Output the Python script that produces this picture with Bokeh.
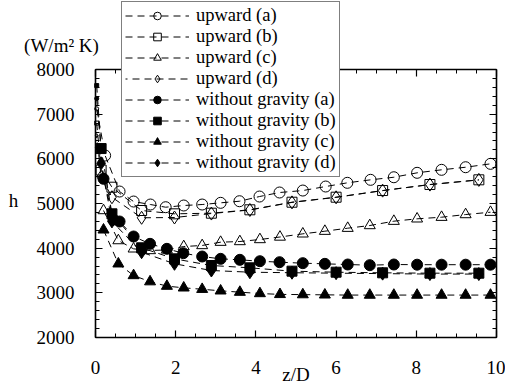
import math
from bokeh.plotting import figure
from bokeh.models import (LinearAxis, SingleIntervalTicker, Legend, LegendItem, Range1d,
                          Label, CustomJSTickFormatter)
from bokeh.embed import file_html
from bokeh.resources import INLINE

# ---- data ----
z_a = [0.03, 0.24, 0.6, 0.95, 1.37, 1.75, 2.2, 2.66, 3.12, 3.59, 4.09, 4.59, 5.17, 5.74, 6.28, 6.86, 7.44, 8.02, 8.63, 9.23, 9.85]
up_a = [7120, 6074, 5268, 5044, 4977, 4917, 4955, 4977, 5015, 5051, 5156, 5246, 5290, 5380, 5463, 5530, 5588, 5687, 5754, 5812, 5888]

z_b = [0.03, 0.14, 0.41, 1.15, 1.97, 2.89, 3.85, 4.9, 6.0, 7.16, 8.34, 9.56]
up_b = [6800, 5750, 5365, 4843, 4769, 4783, 4859, 5029, 5141, 5290, 5425, 5530]
up_d = [6520, 5600, 5140, 4680, 4686, 4775, 4855, 5025, 5138, 5288, 5423, 5528]

z_c = [0.2, 0.57, 0.95, 1.36, 1.78, 2.2, 2.66, 3.12, 3.6, 4.1, 4.6, 5.17, 5.72, 6.29, 6.84, 7.44, 8.02, 8.63, 9.23, 9.85]
up_c = [4843, 4170, 3985, 3948, 3960, 4037, 4060, 4134, 4149, 4194, 4250, 4321, 4380, 4447, 4507, 4604, 4657, 4693, 4753, 4805]

z_wa = [0.03, 0.2, 0.45, 0.6, 0.95, 1.36, 1.78, 2.19, 2.66, 3.12, 3.6, 4.1, 4.59, 5.17, 5.72, 6.29, 6.84, 7.44, 8.02, 8.63, 9.23, 9.85]
wo_a = [7350, 5553, 4640, 4597, 4261, 4097, 3985, 3887, 3813, 3761, 3739, 3708, 3686, 3664, 3649, 3634, 3619, 3634, 3630, 3630, 3630, 3630]

wo_b = [7640, 6230, 4769, 4008, 3761, 3612, 3560, 3485, 3462, 3448, 3440, 3440]
wo_d = [6250, 5900, 4600, 3910, 3650, 3500, 3462, 3450, 3440, 3430, 3420, 3420]

wo_c = [4410, 3650, 3388, 3250, 3150, 3112, 3080, 3045, 3015, 2985, 2965, 2960, 2955, 2950, 2950, 2950, 2950, 2950, 2950, 2950]

labels = ["upward (a)", "upward (b)", "upward (c)", "upward (d)",
          "without gravity (a)", "without gravity (b)", "without gravity (c)", "without gravity (d)"]
x_label = "z/D"
y_label = "h"
unit_label = "(W/m² K)"
x_ticks_interval = 2
y_ticks_interval = 1000
X0, X1, Y0, Y1 = 0, 10, 2000, 8000

FONT = "Liberation Serif"
W, H = 505, 385
# visible plot box in canvas pixels
BL, BT, BW, BH = 95, 69, 401, 268
sx = BW / (X1 - X0)
sy = BH / (Y1 - Y0)

# frame covers the whole canvas so that legend and labels are never clipped
xr = Range1d(X0 - BL / sx, X0 + (W - BL) / sx)
yr_ = Range1d(Y0 - (H - BT - BH) / sy, Y0 + (BT + BH) / sy)

p = figure(width=W, height=H, output_backend="svg", toolbar_location=None,
           x_range=xr, y_range=yr_,
           min_border_left=0, min_border_top=0, min_border_bottom=0, min_border_right=0,
           x_axis_location=None, y_axis_location=None)
p.title.visible = False
p.grid.visible = False
p.outline_line_color = None
p.background_fill_color = "white"
p.border_fill_color = "white"

blank = CustomJSTickFormatter(code="return ''")

def style_axis(ax, show_labels):
    ax.axis_line_color = "black"
    ax.axis_line_width = 1.6
    ax.major_tick_in = 7
    ax.major_tick_out = 0
    ax.minor_tick_in = 4
    ax.minor_tick_out = 0
    ax.major_tick_line_color = "black"
    ax.minor_tick_line_color = "black"
    ax.major_tick_line_width = 1.2
    ax.minor_tick_line_width = 1
    if show_labels:
        ax.major_label_text_font = FONT
        ax.major_label_text_font_size = "19px"
        ax.major_label_text_color = "black"
    else:
        ax.formatter = blank
        ax.major_label_standoff = 0

xt = SingleIntervalTicker(interval=x_ticks_interval, num_minor_ticks=4)
yt = SingleIntervalTicker(interval=y_ticks_interval, num_minor_ticks=5)

xb = LinearAxis(ticker=xt, fixed_location=Y0, bounds=(X0, X1)); style_axis(xb, True)
xb.major_label_standoff = 23
xtop = LinearAxis(ticker=xt, fixed_location=Y1, bounds=(X0, X1)); style_axis(xtop, False)
yl = LinearAxis(ticker=yt, fixed_location=X0, bounds=(Y0, Y1)); style_axis(yl, True)
yl.major_label_standoff = 21
yr = LinearAxis(ticker=yt, fixed_location=X1, bounds=(Y0, Y1)); style_axis(yr, False)
p.add_layout(xb, "below")
p.add_layout(xtop, "above")
p.add_layout(yl, "left")
p.add_layout(yr, "right")

def txt(x, y, t):
    p.add_layout(Label(x=x, y=y, text=t, text_font=FONT, text_font_size="19px",
                       text_align="center", text_baseline="middle", text_color="black"))

txt(X0 - 82 / sx, Y0 + 137 / sy, y_label)
txt(X0 - 34 / sx, Y1 + 24 / sy, unit_label)
txt((X0 + X1) / 2, Y0 - 37 / sy, x_label)

DASH = "7 5"
PERIOD = 12

def path_len(xs, ys, n):
    return sum(math.hypot((xs[i + 1] - xs[i]) * sx, (ys[i + 1] - ys[i]) * sy) for i in range(n))

series = [
    (z_a, up_a, "circle", False),
    (z_b, up_b, "square", False),
    (z_c, up_c, "triangle", False),
    (z_b, up_d, "diamond", False),
    (z_wa, wo_a, "circle", True),
    (z_b, wo_b, "square", True),
    (z_c, wo_c, "triangle", True),
    (z_b, wo_d, "diamond", True),
]
offsets = [0] * 8
offsets[3] = (path_len(z_b, up_b, 4) - path_len(z_b, up_d, 4)) % PERIOD

sizes = {"circle": 11, "square": 10, "triangle": 11, "diamond": 13}

items = []
for k, ((xs, ys, mk, filled), lab) in enumerate(zip(series, labels)):
    ln = p.line(xs, ys, line_color="black", line_width=1, line_dash=DASH,
                line_dash_offset=int(round(offsets[k])))
    start = 1 if xs[0] < 0.1 else 0
    if start:
        p.scatter(xs[:1], ys[:1], marker=mk, size=4, line_color="black", line_width=1,
                  fill_color="black" if filled else None, fill_alpha=1 if filled else 0)
    sc = p.scatter(xs[start:], ys[start:], marker=mk, size=sizes[mk], line_color="black",
                   line_width=1, fill_color="black" if filled else None,
                   fill_alpha=1 if filled else 0)
    items.append(LegendItem(label=lab, renderers=[ln, sc]))

# legend box: left edge 26 px right of the y axis, bottom 160 px above the x axis
leg = Legend(items=items, location=(BL + 26, (H - BT - BH) + 160))
leg.label_text_font = FONT
leg.label_text_font_size = "18.5px"
leg.label_text_color = "black"
leg.glyph_width = 64
leg.glyph_height = 19
leg.label_height = 19
leg.spacing = 0
leg.padding = 3
leg.margin = 0
leg.label_standoff = 7
leg.border_line_color = "black"
leg.border_line_width = 1
leg.background_fill_color = "white"
leg.background_fill_alpha = 1
p.add_layout(leg, "center")

open("out.html", "w").write(file_html(p, INLINE))
